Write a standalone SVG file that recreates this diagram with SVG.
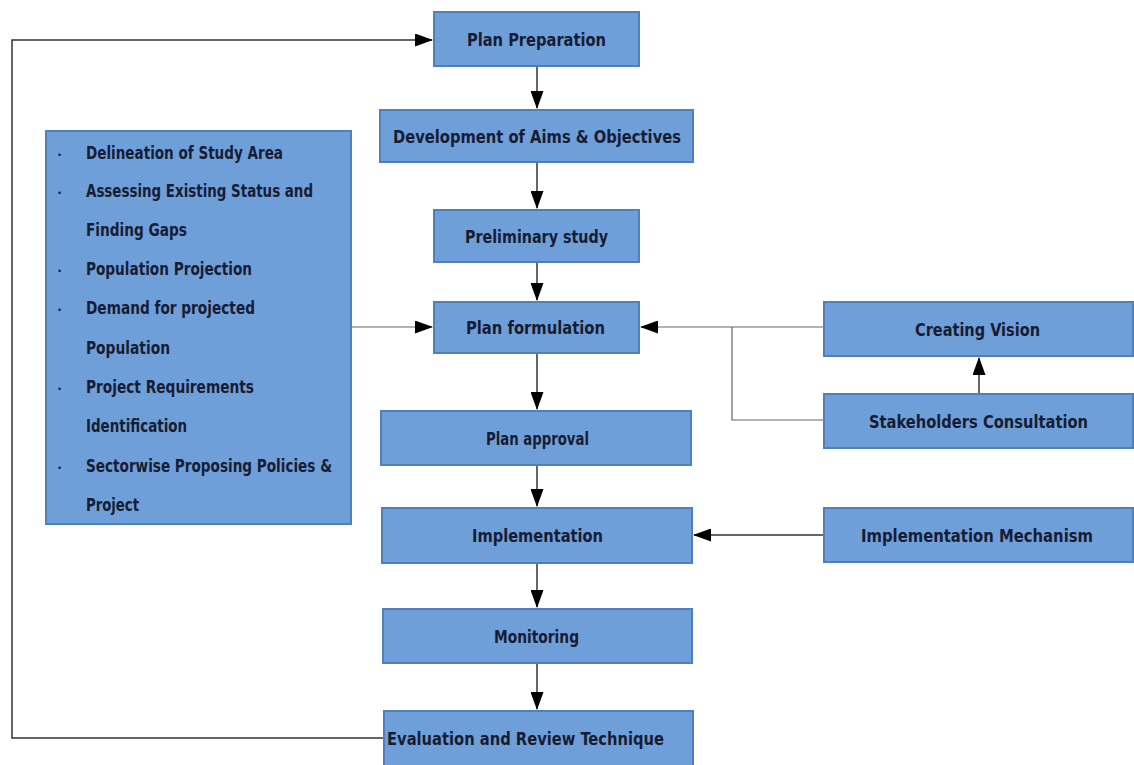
<svg xmlns="http://www.w3.org/2000/svg" width="1134" height="765" viewBox="0 0 1134 765">
<defs>
<marker id="ahb" markerWidth="18" markerHeight="13" refX="17" refY="6.5" orient="auto" markerUnits="userSpaceOnUse" viewBox="0 0 18 13">
<path d="M0,0 L18,6.5 L0,13 z" fill="#000"/>
</marker>
<style>
.box{fill:#6f9fd8;stroke:#4f7fbf;stroke-width:2}
.t{font-family:"Liberation Sans Narrow","DejaVu Sans Condensed","Liberation Sans",sans-serif;font-weight:bold;font-size:18px;fill:#161c33}
.l{font-family:"Liberation Sans Narrow","DejaVu Sans Condensed","Liberation Sans",sans-serif;font-weight:bold;font-size:17px;fill:#161c33}
.b{font-family:"Liberation Sans",sans-serif;font-size:9px;fill:#161c33}
.c{fill:none;stroke:#333;stroke-width:1.5}
.cg{fill:none;stroke:#666;stroke-width:1.2}
</style>
</defs>
<rect width="1134" height="765" fill="#fff"/>
<g id="connectors">
<path class="c" d="M384,738 H12 V40 H432" marker-end="url(#ahb)"/>
<path class="c" d="M537,66 V108" marker-end="url(#ahb)"/>
<path class="c" d="M537,162 V208" marker-end="url(#ahb)"/>
<path class="c" d="M537,262 V300" marker-end="url(#ahb)"/>
<path class="c" d="M537,353 V409" marker-end="url(#ahb)"/>
<path class="c" d="M537,465 V506" marker-end="url(#ahb)"/>
<path class="c" d="M537,563 V607" marker-end="url(#ahb)"/>
<path class="c" d="M537,663 V709" marker-end="url(#ahb)"/>
<path class="cg" d="M351,327 H432" marker-end="url(#ahb)"/>
<path class="cg" d="M824,327 H641" marker-end="url(#ahb)"/>
<path class="cg" d="M732,327 V420 H824"/>
<path class="c" d="M979,394 V358" marker-end="url(#ahb)"/>
<path class="c" d="M824,535 H694" marker-end="url(#ahb)"/>
</g>
<g id="plan-preparation"><rect class="box" x="434" y="12" width="205" height="54"/><text class="t" x="467" y="46" textLength="139" lengthAdjust="spacingAndGlyphs">Plan Preparation</text></g>
<g id="aims-objectives"><rect class="box" x="380" y="110" width="313" height="52"/><text class="t" x="393" y="143" textLength="288" lengthAdjust="spacingAndGlyphs">Development of Aims &amp; Objectives</text></g>
<g id="preliminary-study"><rect class="box" x="434" y="210" width="205" height="52"/><text class="t" x="465" y="243" textLength="143" lengthAdjust="spacingAndGlyphs">Preliminary study</text></g>
<g id="plan-formulation"><rect class="box" x="434" y="302" width="205" height="51"/><text class="t" x="466" y="334" textLength="139" lengthAdjust="spacingAndGlyphs">Plan formulation</text></g>
<g id="plan-approval"><rect class="box" x="381" y="411" width="310" height="54"/><text class="t" x="486" y="445" textLength="103" lengthAdjust="spacingAndGlyphs">Plan approval</text></g>
<g id="implementation"><rect class="box" x="382" y="508" width="310" height="55"/><text class="t" x="472" y="542" textLength="131" lengthAdjust="spacingAndGlyphs">Implementation</text></g>
<g id="monitoring"><rect class="box" x="383" y="609" width="309" height="54"/><text class="t" x="494" y="643" textLength="85" lengthAdjust="spacingAndGlyphs">Monitoring</text></g>
<g id="evaluation"><rect class="box" x="384" y="711" width="309" height="56"/><text class="t" x="387" y="745" textLength="277" lengthAdjust="spacingAndGlyphs">Evaluation and Review Technique</text></g>
<g id="creating-vision"><rect class="box" x="824" y="302" width="309" height="54"/><text class="t" x="915" y="336" textLength="125" lengthAdjust="spacingAndGlyphs">Creating Vision</text></g>
<g id="stakeholders"><rect class="box" x="824" y="394" width="309" height="54"/><text class="t" x="869" y="428" textLength="219" lengthAdjust="spacingAndGlyphs">Stakeholders Consultation</text></g>
<g id="impl-mechanism"><rect class="box" x="824" y="508" width="309" height="54"/><text class="t" x="861" y="542" textLength="232" lengthAdjust="spacingAndGlyphs">Implementation Mechanism</text></g>
<g id="study-list">
<rect class="box" x="46" y="131" width="305" height="393"/>
<text class="b" x="58" y="158">•</text>
<text class="l" x="86" y="159" textLength="197" lengthAdjust="spacingAndGlyphs">Delineation of Study Area</text>
<text class="b" x="58" y="196">•</text>
<text class="l" x="86" y="197" textLength="227" lengthAdjust="spacingAndGlyphs">Assessing Existing Status and</text>
<text class="l" x="86" y="236" textLength="101" lengthAdjust="spacingAndGlyphs">Finding Gaps</text>
<text class="b" x="58" y="274">•</text>
<text class="l" x="86" y="275" textLength="166" lengthAdjust="spacingAndGlyphs">Population Projection</text>
<text class="b" x="58" y="313">•</text>
<text class="l" x="86" y="314" textLength="169" lengthAdjust="spacingAndGlyphs">Demand for projected</text>
<text class="l" x="86" y="354" textLength="84" lengthAdjust="spacingAndGlyphs">Population</text>
<text class="b" x="58" y="392">•</text>
<text class="l" x="86" y="393" textLength="168" lengthAdjust="spacingAndGlyphs">Project Requirements</text>
<text class="l" x="86" y="432" textLength="101" lengthAdjust="spacingAndGlyphs">Identification</text>
<text class="b" x="58" y="471">•</text>
<text class="l" x="86" y="472" textLength="246" lengthAdjust="spacingAndGlyphs">Sectorwise Proposing Policies &amp;</text>
<text class="l" x="86" y="511" textLength="53" lengthAdjust="spacingAndGlyphs">Project</text>
</g>
</svg>
